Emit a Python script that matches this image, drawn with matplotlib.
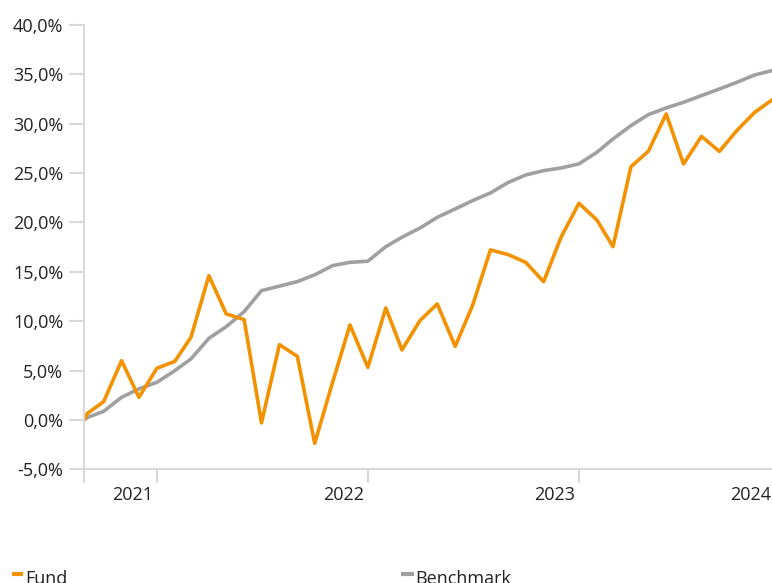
import numpy as np
import pandas as pd
import matplotlib
matplotlib.use('Agg')
import matplotlib.pyplot as plt
import matplotlib.dates as mdates
import matplotlib.transforms as mtransforms
from matplotlib.lines import Line2D

plt.rcParams['font.family'] = ['Open Sans', 'DejaVu Sans']

# dates: start, a few days in, then month ends
dates = pd.to_datetime(['2020-08-27', '2020-09-02']).append(
    pd.date_range('2020-09-30', '2023-11-30', freq='ME'))

fund = [0.0, 0.67,
        1.85, 6.00, 2.29, 5.23,
        5.93, 8.37, 14.61, 10.74, 10.16, -0.30, 7.63, 6.44, -2.37, 3.81, 9.62, 5.33,
        11.34, 7.09, 10.06, 11.75, 7.45, 11.58, 17.22, 16.74, 15.96, 14.01, 18.49, 21.94,
        20.26, 17.55, 25.65, 27.20, 30.99, 25.93, 28.72, 27.20, 29.30, 31.15, 32.41]

benchmark = [0.0, 0.25,
             0.87, 2.29, 3.14, 3.81,
             4.99, 6.18, 8.26, 9.45, 10.97, 13.10, 13.55, 14.01, 14.70, 15.63, 15.96, 16.08,
             17.55, 18.51, 19.43, 20.52, 21.37, 22.21, 22.99, 24.06, 24.81, 25.25, 25.52, 25.93,
             27.10, 28.46, 29.81, 30.92, 31.60, 32.17, 32.85, 33.52, 34.19, 34.94, 35.38]

years = ['2021', '2022', '2023', '2024']
year_starts = pd.to_datetime(['2021-01-01', '2022-01-01', '2023-01-01', '2024-01-01'])
y_ticks = [-5, 0, 5, 10, 15, 20, 25, 30, 35, 40]

fund_color = '#f39200'
bench_color = '#a0a0a0'
axis_color = '#d9d9d9'
text_color = '#222222'

W, H = 772, 583
fig = plt.figure(figsize=(W / 100, H / 100), dpi=100)
ax = fig.add_axes([84 / W, 1 - 469.3 / H, (W - 84) / W, (469.3 - 25) / H])

ax.plot(dates, benchmark, color=bench_color, lw=2.6, solid_joinstyle='round')
ax.plot(dates, fund, color=fund_color, lw=2.6, solid_joinstyle='round')

ax.set_xlim(dates[0], dates[-1])
ax.set_ylim(-5, 40)

for s in ['top', 'right']:
    ax.spines[s].set_visible(False)
for s in ['left', 'bottom']:
    ax.spines[s].set_color(axis_color)
    ax.spines[s].set_linewidth(1.5)

ax.set_yticks(y_ticks)
ax.set_yticklabels([('%.1f' % v).replace('.', ',') + '%' for v in y_ticks])
ax.tick_params(axis='y', length=11, width=1.5, color=axis_color, pad=4,
               labelsize=13, labelcolor=text_color)

xt = [dates[0]] + list(year_starts[:3])
ax.set_xticks(xt)
ax.set_xticklabels([''] * len(xt))
ax.tick_params(axis='x', length=10, width=1.5, color=axis_color)

# year labels sit just left of each year tick
trans = mtransforms.blended_transform_factory(ax.transData, fig.transFigure)
off = mtransforms.ScaledTranslation(-4 / 100, 0, fig.dpi_scale_trans)
for lab, d in zip(years[:3], year_starts[:3]):
    ax.text(mdates.date2num(d), 1 - 494.5 / H, lab, transform=trans + off,
            ha='right', va='center', fontsize=13, color=text_color)
fig.text(771 / W, 1 - 494.5 / H, years[3], ha='right', va='center',
         fontsize=13, color=text_color)

# legend at the bottom
for x0, x1, col, label, tx in [(12, 23, fund_color, 'Fund', 25.5),
                                (401, 414, bench_color, 'Benchmark', 415)]:
    fig.add_artist(Line2D([x0 / W, x1 / W], [1 - 574 / H, 1 - 574 / H],
                          transform=fig.transFigure, color=col, lw=3,
                          solid_capstyle='butt'))
    fig.text(tx / W, 1 - 584 / H, label, ha='left', va='baseline',
             fontsize=13, color=text_color)

fig.savefig('out.png', dpi=100)
